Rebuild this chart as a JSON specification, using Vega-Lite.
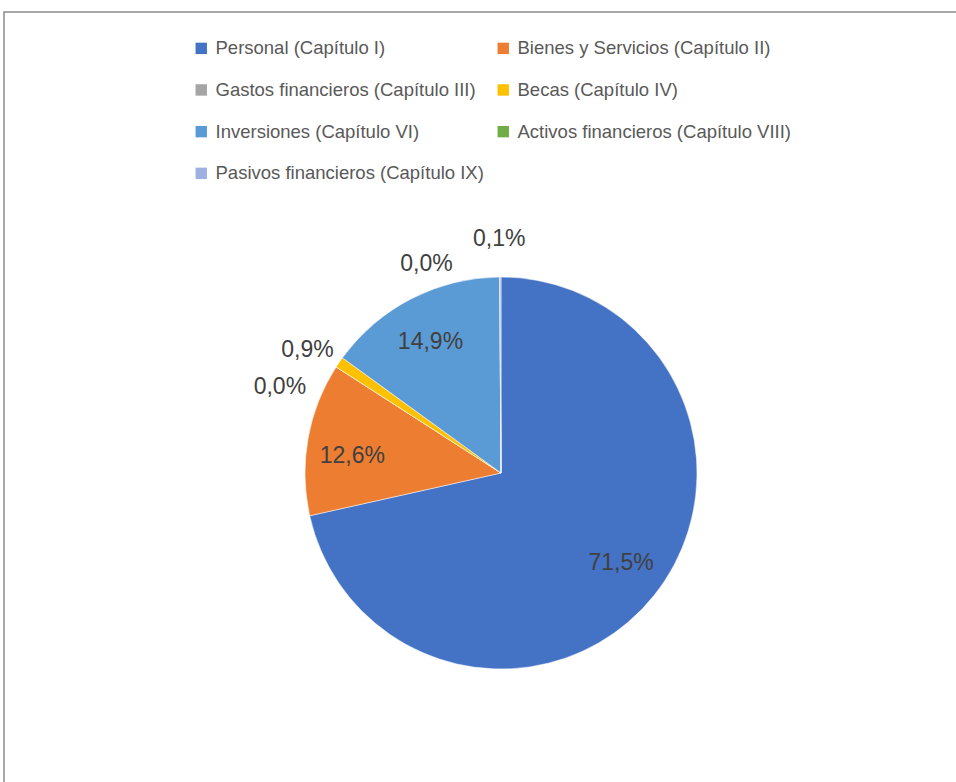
{
  "$schema": "https://vega.github.io/schema/vega-lite/v6.json",
  "width": 956,
  "height": 782,
  "autosize": {"type": "fit", "contains": "padding"},
  "padding": {"left": 4, "top": 12, "right": -8, "bottom": -6},
  "background": "white",
  "view": {"stroke": "#8c8c8c", "strokeWidth": 1.5, "fill": "white"},
  "config": {
    "locale": {"number": {"decimal": ",", "thousands": ".", "grouping": [3], "currency": ["", " €"]}},
    "text": {"font": "Liberation Sans", "fontSize": 23, "color": "#404040"}
  },
  "data": {
    "values": [
      {"orden": 1, "capitulo": "Personal (Capítulo I)", "v": 0.715},
      {"orden": 2, "capitulo": "Bienes y Servicios (Capítulo II)", "v": 0.126},
      {"orden": 3, "capitulo": "Gastos financieros (Capítulo III)", "v": 0.0},
      {"orden": 4, "capitulo": "Becas (Capítulo IV)", "v": 0.009},
      {"orden": 5, "capitulo": "Inversiones (Capítulo VI)", "v": 0.149},
      {"orden": 6, "capitulo": "Activos financieros (Capítulo VIII)", "v": 0.0},
      {"orden": 7, "capitulo": "Pasivos financieros (Capítulo IX)", "v": 0.001}
    ]
  },
  "encoding": {
    "theta": {"field": "v", "type": "quantitative", "stack": true},
    "order": {"field": "orden", "type": "quantitative"}
  },
  "layer": [
    {
      "mark": {"type": "arc", "radius": 196, "x": {"expr": "width/2+17"}, "y": {"expr": "height/2+73"}, "stroke": "white", "strokeWidth": 0.5},
      "encoding": {
        "color": {
          "field": "capitulo", "type": "nominal",
          "scale": {
            "domain": ["Personal (Capítulo I)", "Gastos financieros (Capítulo III)", "Inversiones (Capítulo VI)", "Pasivos financieros (Capítulo IX)", "Bienes y Servicios (Capítulo II)", "Becas (Capítulo IV)", "Activos financieros (Capítulo VIII)"],
            "range": ["#4472C4", "#A5A5A5", "#5B9BD5", "#9EB1E0", "#ED7D31", "#FFC000", "#70AD47"]
          },
          "legend": {
            "title": null, "orient": "none", "legendX": 188, "legendY": 27,
            "columns": 2, "columnPadding": 10, "rowPadding": 22.7,
            "symbolType": "square", "symbolSize": 130, "symbolStrokeWidth": 0,
            "labelFont": "Liberation Sans", "labelFontSize": 18.5, "labelColor": "#595959",
            "labelLimit": 400, "labelOffset": 5
          }
        }
      }
    },
    {
      "mark": {"type": "text", "radius": 150, "dx": 3, "dy": -4, "x": {"expr": "width/2+17"}, "y": {"expr": "height/2+73"}},
      "encoding": {
        "text": {"condition": {"test": "datum.orden == 1", "field": "v", "type": "quantitative", "format": ".1%"}, "value": ""}
      }
    },
    {
      "mark": {"type": "text", "radius": 150, "dx": -1, "dy": 9, "x": {"expr": "width/2+17"}, "y": {"expr": "height/2+73"}},
      "encoding": {
        "text": {"condition": {"test": "datum.orden == 2", "field": "v", "type": "quantitative", "format": ".1%"}, "value": ""}
      }
    },
    {
      "mark": {"type": "text", "radius": 150, "dx": -2, "dy": 2, "x": {"expr": "width/2+17"}, "y": {"expr": "height/2+73"}},
      "encoding": {
        "text": {"condition": {"test": "datum.orden == 5", "field": "v", "type": "quantitative", "format": ".1%"}, "value": ""}
      }
    },
    {
      "mark": {"type": "text", "radius": 232, "dx": -2, "dy": 8, "x": {"expr": "width/2+17"}, "y": {"expr": "height/2+73"}},
      "encoding": {
        "text": {"condition": {"test": "datum.orden == 4", "field": "v", "type": "quantitative", "format": ".1%"}, "value": ""}
      }
    },
    {
      "mark": {"type": "text", "radius": 232, "dx": -26, "dy": 40, "x": {"expr": "width/2+17"}, "y": {"expr": "height/2+73"}},
      "encoding": {
        "text": {"condition": {"test": "datum.orden == 3", "field": "v", "type": "quantitative", "format": ".1%"}, "value": ""}
      }
    },
    {
      "mark": {"type": "text", "radius": 232, "dx": -73, "dy": 23, "x": {"expr": "width/2+17"}, "y": {"expr": "height/2+73"}},
      "encoding": {
        "text": {"condition": {"test": "datum.orden == 6", "field": "v", "type": "quantitative", "format": ".1%"}, "value": ""}
      }
    },
    {
      "mark": {"type": "text", "radius": 232, "dx": -1, "dy": -2, "x": {"expr": "width/2+17"}, "y": {"expr": "height/2+73"}},
      "encoding": {
        "text": {"condition": {"test": "datum.orden == 7", "field": "v", "type": "quantitative", "format": ".1%"}, "value": ""}
      }
    }
  ]
}
